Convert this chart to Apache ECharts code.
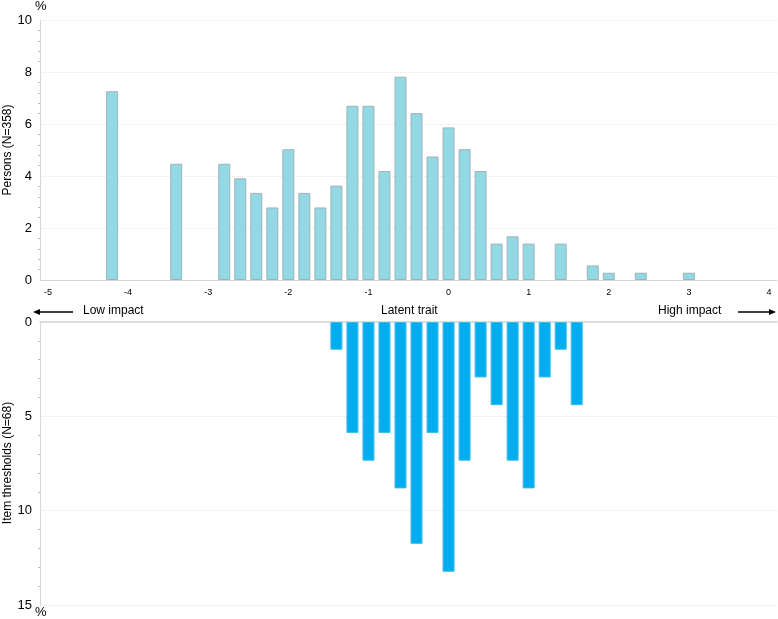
<!DOCTYPE html>
<html>
<head>
<meta charset="utf-8">
<script src="https://cdn.jsdelivr.net/npm/echarts@6/dist/echarts.min.js"></script>
<style>
    html, body { margin: 0; padding: 0; background: #fff; }
    #main { width: 778px; height: 619px; }
</style>
</head>
<body>
<div id="main"></div>
<script>
    // person locations (logits) and % of persons
    var personLoc = [-4.2, -3.4, -2.8, -2.6, -2.4, -2.2, -2.0, -1.8, -1.6, -1.4, -1.2, -1.0, -0.8,
                     -0.6, -0.4, -0.2, 0.0, 0.2, 0.4, 0.6, 0.8, 1.0, 1.4, 1.8, 2.0, 2.4, 3.0];
    var personPct = [7.26, 4.47, 4.47, 3.91, 3.35, 2.79, 5.03, 3.35, 2.79, 3.63, 6.70, 6.70, 4.19,
                     7.82, 6.42, 4.75, 5.87, 5.03, 4.19, 1.40, 1.68, 1.40, 1.40, 0.56, 0.28, 0.28, 0.28];
    // item threshold locations and % of thresholds
    var itemLoc = [-1.4, -1.2, -1.0, -0.8, -0.6, -0.4, -0.2, 0.0, 0.2, 0.4, 0.6, 0.8, 1.0, 1.2, 1.4, 1.6];
    var itemPct = [1.47, 5.88, 7.35, 5.88, 8.82, 11.76, 5.88, 13.24, 7.35, 2.94, 4.41, 7.35, 8.82, 2.94, 1.47, 4.41];
    var xTicks = [-5, -4, -3, -2, -1, 0, 1, 2, 3, 4];

    var personData = personLoc.map(function (x, i) { return [x, personPct[i]]; });
    var itemData = itemLoc.map(function (x, i) { return [x, itemPct[i]]; });

    var font = 'Liberation Sans, Arial, sans-serif';
    var myChart = echarts.init(document.getElementById('main'));

    myChart.setOption({
        backgroundColor: '#fff',
        animation: false,
        textStyle: { fontFamily: font },
        grid: [
            { left: 40, right: 1, top: 20, height: 260, outerBoundsMode: 'none' },
            { left: 40, right: 1, top: 322, height: 283, outerBoundsMode: 'none' }
        ],
        xAxis: [
            {
                gridIndex: 0, type: 'value', min: -5.1, max: 4.1,
                axisLine: { show: true, onZero: false, lineStyle: { color: '#d4d4d4' } },
                axisTick: { show: false },
                splitLine: { show: false },
                axisLabel: { customValues: xTicks, fontSize: 9, color: '#000', margin: 8 }
            },
            {
                gridIndex: 1, type: 'value', min: -5.1, max: 4.1, position: 'top',
                axisLine: { show: true, onZero: false, lineStyle: { color: '#d4d4d4', width: 1.5 } },
                axisTick: { show: false },
                splitLine: { show: false },
                axisLabel: { show: false }
            }
        ],
        yAxis: [
            {
                gridIndex: 0, type: 'value', min: 0, max: 10, interval: 2,
                axisLine: { show: true, onZero: false, lineStyle: { color: '#cfcfcf', type: 'dotted' } },
                axisTick: { show: false },
                minorTick: { show: true, splitNumber: 5, length: 2, lineStyle: { color: '#bbb' } },
                splitLine: { lineStyle: { color: '#e6e6e6', type: 'dotted' } },
                axisLabel: { fontSize: 13, color: '#000', margin: 8 }
            },
            {
                gridIndex: 1, type: 'value', min: 0, max: 15, interval: 5, inverse: true,
                axisLine: { show: true, onZero: false, lineStyle: { color: '#cfcfcf', type: 'dotted' } },
                axisTick: { show: false },
                minorTick: { show: true, splitNumber: 5, length: 2, lineStyle: { color: '#bbb' } },
                splitLine: { lineStyle: { color: '#e6e6e6', type: 'dotted' } },
                axisLabel: { fontSize: 13, color: '#000', margin: 8 }
            }
        ],
        series: [
            {
                name: 'Persons', type: 'bar', xAxisIndex: 0, yAxisIndex: 0,
                barWidth: 12, data: personData,
                itemStyle: { color: '#93d8e5', borderColor: '#9fb3b7', borderWidth: 1 }
            },
            {
                name: 'Item thresholds', type: 'bar', xAxisIndex: 1, yAxisIndex: 1,
                barWidth: 12, data: itemData,
                itemStyle: { color: '#00aeef', borderColor: '#3cbbe9', borderWidth: 1 }
            }
        ],
        graphic: [
            // axis titles
            { type: 'text', x: 8, y: 150, rotation: Math.PI / 2,
              style: { text: 'Persons (N=358)', fontSize: 12, fill: '#000', fontFamily: font, align: 'center', verticalAlign: 'middle' } },
            { type: 'text', x: 8, y: 463, rotation: Math.PI / 2,
              style: { text: 'Item thresholds (N=68)', fontSize: 12, fill: '#000', fontFamily: font, align: 'center', verticalAlign: 'middle' } },
            { type: 'text', left: 35, top: 0, style: { text: '%', fontSize: 13, fill: '#000', fontFamily: font } },
            { type: 'text', left: 35, top: 606, style: { text: '%', fontSize: 13, fill: '#000', fontFamily: font } },
            // low impact arrow
            { type: 'line', shape: { x1: 73, y1: 312, x2: 38, y2: 312 }, style: { stroke: '#000', lineWidth: 1.3 } },
            { type: 'polygon', shape: { points: [[33, 312], [40, 309], [40, 315]] }, style: { fill: '#000' } },
            { type: 'text', left: 83, top: 305, style: { text: 'Low impact', fontSize: 12, fill: '#000', fontFamily: font } },
            { type: 'text', left: 381, top: 305, style: { text: 'Latent trait', fontSize: 12, fill: '#000', fontFamily: font } },
            { type: 'text', left: 658, top: 305, style: { text: 'High impact', fontSize: 12, fill: '#000', fontFamily: font } },
            // high impact arrow
            { type: 'line', shape: { x1: 738, y1: 312, x2: 771, y2: 312 }, style: { stroke: '#000', lineWidth: 1.3 } },
            { type: 'polygon', shape: { points: [[776, 312], [769, 309], [769, 315]] }, style: { fill: '#000' } }
        ]
    });
</script>
</body>
</html>
